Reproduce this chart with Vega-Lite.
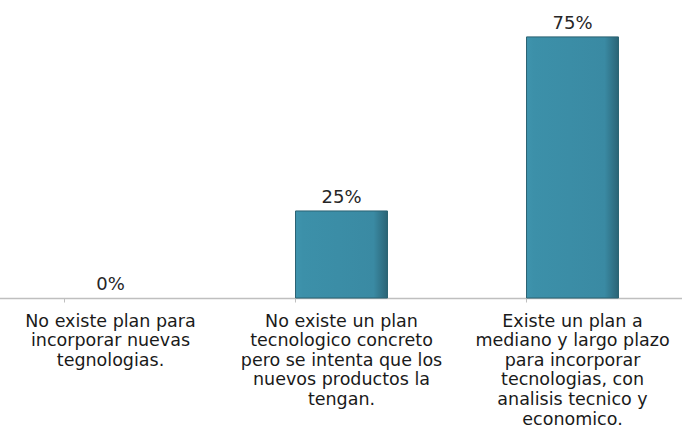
{
  "$schema": "https://vega.github.io/schema/vega-lite/v6.json",
  "width": 693,
  "height": 298,
  "padding": {"left": -5, "right": 0, "top": 0, "bottom": 127},
  "autosize": {"type": "none"},
  "background": "white",
  "config": {"view": {"stroke": null}, "font": "DejaVu Sans"},
  "data": {
    "values": [
      {"cat": "No existe plan para|incorporar nuevas|tegnologias.", "value": 0, "label": "0%"},
      {"cat": "No existe un plan|tecnologico concreto|pero se intenta que los|nuevos productos la|tengan.", "value": 0.25, "label": "25%"},
      {"cat": "Existe un plan a|mediano y largo plazo|para incorporar|tecnologias, con|analisis tecnico y|economico.", "value": 0.75, "label": "75%"}
    ]
  },
  "encoding": {
    "x": {
      "field": "cat",
      "type": "nominal",
      "title": null,
      "scale": {
        "domain": [
          "No existe plan para|incorporar nuevas|tegnologias.",
          "No existe un plan|tecnologico concreto|pero se intenta que los|nuevos productos la|tengan.",
          "Existe un plan a|mediano y largo plazo|para incorporar|tecnologias, con|analisis tecnico y|economico."
        ],
        "paddingInner": 0.602,
        "paddingOuter": 0.301
      },
      "axis": {
        "labelAngle": 0,
        "labelExpr": "split(datum.label, '|')",
        "labelFontSize": 17.5,
        "labelColor": "#1a1a1a",
        "labelLineHeight": 19.6,
        "labelPadding": 19,
        "labelLimit": 0,
        "bandPosition": 0,
        "tickColor": "#bfbfbf",
        "tickSize": 4,
        "domainColor": "#bfbfbf",
        "domainWidth": 1.5,
        "labelBaseline": "middle"
      }
    },
    "y": {
      "field": "value",
      "type": "quantitative",
      "scale": {"domain": [0, 0.856], "nice": false},
      "axis": null
    }
  },
  "layer": [
    {
      "transform": [{"filter": "datum.value > 0"}],
      "mark": {
        "type": "bar",
        "color": {
          "gradient": "linear",
          "x1": 0, "x2": 1, "y1": 0, "y2": 0,
          "stops": [
            {"offset": 0, "color": "#3f94ad"},
            {"offset": 0.08, "color": "#3c90a9"},
            {"offset": 0.85, "color": "#3a8aa3"},
            {"offset": 1, "color": "#2b6476"}
          ]
        },
        "stroke": "#2a6272",
        "strokeWidth": 1
      }
    },
    {
      "mark": {"type": "text", "dy": -4, "fontSize": 18, "color": "#262626", "baseline": "bottom"},
      "encoding": {"text": {"field": "label"}}
    }
  ]
}
